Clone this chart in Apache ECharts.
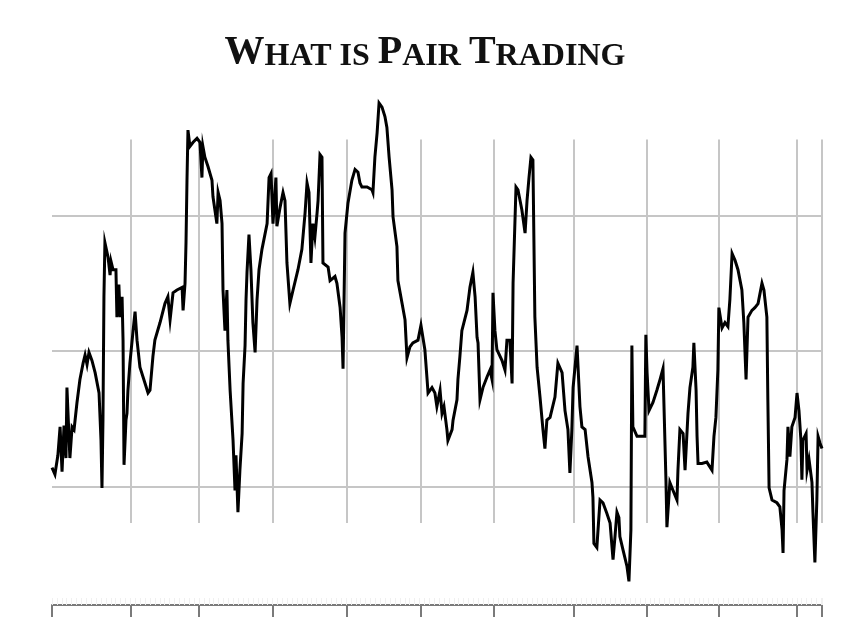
<!DOCTYPE html>
<html>
<head>
<meta charset="utf-8">
<script src="https://cdn.jsdelivr.net/npm/echarts@6/dist/echarts.min.js"></script>
<style>html,body{margin:0;padding:0;background:#fff}#c{width:850px;height:638px}</style>
</head>
<body>
<div id="c"></div>
<script>
// x: day index, y: spread in standard deviations
const days = [0,1.2,2.4,3.3,4.1,4.9,5.7,6.1,7.3,8.2,9.0,10.2,11.4,12.7,13.5,14.3,15.1,16.3,17.6,19.2,
20.0,20.4,20.8,21.2,21.6,22.9,23.7,24.1,24.9,26.1,26.5,27.3,27.8,28.6,29.0,29.4,30.2,30.6,31.0,31.8,
33.1,33.9,34.7,35.9,38.0,39.2,40.0,41.2,42.0,44.1,46.1,47.3,48.2,49.4,51.0,53.1,53.5,54.3,54.7,55.1,
55.5,56.3,57.6,59.2,60.4,61.2,61.6,62.4,63.7,65.3,65.7,66.5,67.3,67.8,68.6,69.4,69.8,70.6,71.4,71.8,
72.7,73.9,74.7,75.1,75.9,76.7,77.6,78.0,78.8,79.2,79.6,80.4,81.2,82.0,82.9,83.7,84.5,85.7,87.8,88.6,
89.4,90.2,91.4,91.8,93.1,94.3,95.1,95.9,97.1,98.4,100.4,102.0,103.3,104.1,104.9,105.7,106.5,107.3,108.2,108.6,
109.4,110.2,110.6,112.7,113.5,115.5,116.3,117.6,118.4,118.8,119.6,120.8,122.4,123.7,124.9,125.7,126.5,128.6,130.6,131.0,
131.8,132.7,133.5,134.7,135.9,136.7,137.6,138.8,139.2,140.8,141.2,142.9,144.1,144.9,146.1,147.3,149.4,150.6,152.2,153.1,
153.5,155.1,156.3,157.1,158.4,159.2,160.0,161.2,161.6,163.3,163.7,165.3,165.7,166.5,167.3,169.4,170.6,171.8,172.7,173.5,
173.9,174.7,175.9,177.6,178.8,179.6,180.0,180.8,181.6,183.7,184.9,185.7,186.9,187.8,188.2,189.4,190.2,191.8,193.1,193.9,
194.7,195.5,196.3,197.1,198.0,199.2,200.4,201.2,202.0,203.3,205.3,206.5,208.2,209.4,210.6,211.4,212.2,212.7,214.3,215.5,
216.3,217.6,218.8,220.4,220.8,221.2,222.4,223.7,224.9,226.5,227.8,229.0,229.8,230.6,231.4,231.8,233.1,234.7,235.5,236.3,
236.7,237.1,238.8,242.0,242.4,242.9,243.7,245.3,246.9,248.2,249.4,250.2,250.6,251.0,252.2,253.5,255.1,255.5,256.3,257.6,
258.4,259.6,260.4,261.6,262.0,262.9,263.3,263.7,265.3,267.3,269.4,270.2,271.0,271.8,272.2,273.5,274.7,275.9,276.7,277.6,
278.8,280.0,281.6,282.4,283.3,284.1,285.7,286.9,288.2,289.8,290.6,291.8,292.2,292.7,293.9,295.9,297.1,298.0,298.4,298.8,
300.0,300.4,301.2,302.0,303.3,304.1,304.9,305.7,306.1,306.5,307.8,308.2,309.0,310.2,310.6,311.4,312.2,312.7,313.5,314.3];
const spread = [-0.86,-0.91,-0.77,-0.56,-0.89,-0.55,-0.79,-0.27,-0.79,-0.56,-0.58,-0.38,-0.21,-0.09,-0.03,-0.10,-0.01,-0.07,-0.16,-0.31,
-0.66,-1.01,-0.51,0.40,0.80,0.69,0.56,0.66,0.60,0.60,0.25,0.49,0.25,0.40,0.08,-0.84,-0.51,-0.46,-0.29,-0.09,
0.15,0.29,0.08,-0.12,-0.24,-0.31,-0.29,-0.04,0.08,0.21,0.35,0.40,0.23,0.43,0.45,0.47,0.30,0.50,0.80,1.26,
1.63,1.51,1.54,1.57,1.54,1.28,1.51,1.43,1.36,1.26,1.14,1.15,0.94,1.17,1.11,0.94,0.45,0.15,0.45,0.08,
-0.29,-0.66,-1.03,-0.77,-1.19,-0.88,-0.61,-0.24,0.04,0.38,0.58,0.86,0.60,0.21,-0.01,0.38,0.60,0.75,0.94,1.28,
1.31,0.94,1.28,0.92,1.06,1.17,1.11,0.65,0.35,0.45,0.60,0.75,1.02,1.24,1.17,0.65,0.94,0.84,1.02,1.11,
1.45,1.43,0.65,0.62,0.52,0.55,0.50,0.32,0.10,-0.13,0.87,1.09,1.26,1.34,1.32,1.24,1.21,1.21,1.19,1.17,
1.43,1.61,1.83,1.80,1.73,1.65,1.43,1.19,0.99,0.77,0.52,0.35,0.23,-0.05,0.03,0.06,0.08,0.19,0.01,-0.21,
-0.31,-0.27,-0.31,-0.41,-0.29,-0.46,-0.41,-0.58,-0.66,-0.58,-0.51,-0.36,-0.21,-0.04,0.15,0.30,0.47,0.58,0.40,0.10,
0.06,-0.36,-0.27,-0.19,-0.14,-0.21,0.43,0.15,0.01,-0.07,-0.14,0.08,0.08,-0.24,0.50,1.21,1.19,1.04,0.87,1.11,
1.28,1.43,1.41,0.25,-0.12,-0.34,-0.58,-0.72,-0.51,-0.49,-0.34,-0.09,-0.16,-0.44,-0.58,-0.90,-0.58,-0.27,0.04,-0.41,
-0.56,-0.58,-0.78,-0.97,-1.08,-1.42,-1.45,-1.10,-1.12,-1.20,-1.27,-1.54,-1.37,-1.19,-1.23,-1.37,-1.47,-1.59,-1.70,-1.32,
0.04,-0.56,-0.63,-0.63,0.12,-0.16,-0.44,-0.38,-0.29,-0.21,-0.13,-0.14,-0.95,-1.30,-0.97,-1.03,-1.10,-0.88,-0.58,-0.61,
-0.88,-0.46,-0.27,-0.12,0.06,-0.29,-0.63,-0.83,-0.83,-0.82,-0.88,-0.63,-0.49,-0.14,0.32,0.17,0.21,0.18,0.38,0.72,
0.67,0.60,0.45,0.21,-0.21,0.25,0.30,0.32,0.35,0.50,0.45,0.25,-0.36,-1.01,-1.10,-1.12,-1.15,-1.32,-1.49,-1.03,
-0.80,-0.56,-0.78,-0.56,-0.49,-0.31,-0.44,-0.66,-0.95,-0.66,-0.61,-0.88,-0.80,-0.97,-1.19,-1.56,-1.10,-0.63,-0.68,-0.72];
// month boundaries (tick positions, in days)
const monthTicks = [0, 32.2, 60.0, 90.2, 120.4, 150.6, 180.4, 213.1, 242.9, 272.2, 304.1, 314.3];
const gridTicks = [32.2, 60.0, 90.2, 120.4, 150.6, 180.4, 213.1, 242.9, 272.2, 304.1, 314.3];
const gridTop = 1.56, gridBottom = -1.27;
const xMax = 314.3;

const chart = echarts.init(document.getElementById('c'), null, {renderer: 'canvas'});
const points = days.map((d, i) => [d, spread[i]]);
const vLines = gridTicks.map(t => [{coord: [t, gridTop]}, {coord: [t, gridBottom]}]);
const G = '#c6c6c6', T = 'rgba(0,0,0,0)';

chart.setOption({
  backgroundColor: '#ffffff',
  animation: false,
  title: {
    left: 'center',
    top: 28,
    text: '{b|W}{s|HAT IS }{b|P}{s|AIR }{b|T}{s|RADING}',
    textStyle: {
      rich: {
        b: {fontFamily: 'Liberation Serif', fontWeight: 'bold', fontSize: 40, lineHeight: 40, color: '#111', verticalAlign: 'bottom'},
        s: {fontFamily: 'Liberation Serif', fontWeight: 'bold', fontSize: 32, lineHeight: 32, color: '#111', verticalAlign: 'bottom'}
      }
    }
  },
  grid: {left: 52, right: 28, top: 80, bottom: 16, containLabel: false},
  xAxis: [{
    type: 'value', min: 0, max: xMax, offset: -17, position: 'bottom',
    axisLine: {show: true, onZero: false, lineStyle: {color: '#7a7a7a', width: 2}},
    axisTick: {show: true, inside: false, length: 12, customValues: monthTicks, lineStyle: {color: '#7a7a7a', width: 2}},
    axisLabel: {show: false},
    splitLine: {show: false}
  }, {
    type: 'value', min: 0, max: xMax, interval: 2, offset: -17, position: 'bottom',
    axisLine: {show: false, onZero: false},
    axisTick: {show: true, inside: true, length: 7, lineStyle: {color: '#f0f0f0', width: 1}},
    axisLabel: {show: false},
    splitLine: {show: false}
  }],
  yAxis: {
    type: 'value', min: -2, max: 2, interval: 1,
    axisLine: {show: false}, axisTick: {show: false}, axisLabel: {show: false},
    splitLine: {show: true, lineStyle: {color: [T, G, G, G, T], width: 2}}
  },
  series: [{
    type: 'line', data: points, z: 3, showSymbol: false, silent: true,
    lineStyle: {color: '#000', width: 3, join: 'miter'},
    markLine: {silent: true, z: 1, symbol: ['none', 'none'], label: {show: false},
      lineStyle: {color: G, width: 2, type: 'solid'}, data: vLines, animation: false}
  }]
});
</script>
</body>
</html>
